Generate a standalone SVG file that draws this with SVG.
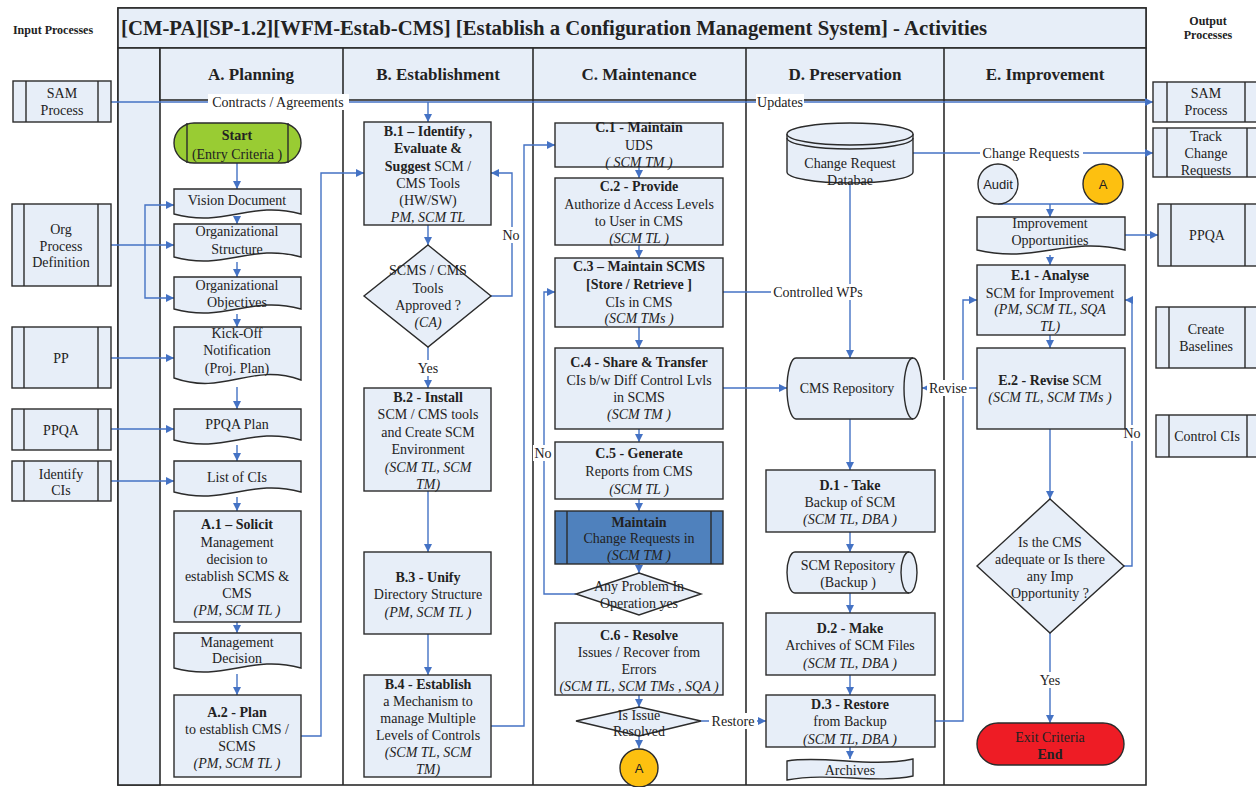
<svg xmlns="http://www.w3.org/2000/svg" width="1256" height="787" viewBox="0 0 1256 787" font-family="Liberation Serif, DejaVu Serif, serif">
<defs>
<marker id="ah" markerUnits="userSpaceOnUse" markerWidth="9" markerHeight="8" refX="8" refY="4" orient="auto"><path d="M0,0 L8,4 L0,8 Z" fill="#4472C4"/></marker>
<style>
.n{fill:#E7EEF8;stroke:#2b2b2b;stroke-width:1.4}
.lane{fill:#E7EEF8;stroke:#2b2b2b;stroke-width:1.6}
.div{stroke:#2b2b2b;stroke-width:1.6;fill:none}
.c{fill:none;stroke:#4472C4;stroke-width:1.4}
.a{marker-end:url(#ah)}
.bg{fill:#ffffff}
text{font-family:'Liberation Serif','DejaVu Serif',serif;font-size:14px;fill:#222;text-anchor:middle}
.b{font-weight:bold}
.i{font-style:italic}
.h{font-size:17px;font-weight:bold}
text.s{font-family:'Liberation Sans','DejaVu Sans',sans-serif;font-size:13px}
.sm{font-size:12px;font-weight:bold}
</style>
</defs>
<rect width="1256" height="787" fill="#ffffff"/>
<g id="frame">
<rect x="118" y="8" width="1028" height="777" fill="#ffffff" stroke="#2b2b2b" stroke-width="1.6"/>
<rect class="lane" x="118" y="8" width="1028" height="40"/>
<rect class="lane" x="118" y="48" width="42" height="737"/>
<rect class="lane" x="160" y="48" width="986" height="52"/>
<line class="div" x1="343" y1="48" x2="343" y2="785"/>
<line class="div" x1="533" y1="48" x2="533" y2="785"/>
<line class="div" x1="746" y1="48" x2="746" y2="785"/>
<line class="div" x1="944" y1="48" x2="944" y2="785"/>
<text x="121" y="35" style="font-size:20px;font-weight:bold;text-anchor:start" textLength="866" lengthAdjust="spacingAndGlyphs">[CM-PA][SP-1.2][WFM-Estab-CMS] [Establish a Configuration Management System] - Activities</text>
<text class="h" x="251" y="80">A. Planning</text>
<text class="h" x="438" y="80">B. Establishment</text>
<text class="h" x="639" y="80">C. Maintenance</text>
<text class="h" x="845" y="80">D. Preservation</text>
<text class="h" x="1045" y="80">E. Improvement</text>
<text class="sm" x="53" y="34">Input Processes</text>
<text class="sm" x="1208" y="25">Output</text>
<text class="sm" x="1208" y="39">Processes</text>
</g>
<g id="connectors">
<path class="c a" d="M111,102 H1153"/>
<path class="c a" d="M428,102 V122"/>
<path class="c a" d="M237,163 V189"/>
<path class="c a" d="M237,217 V224"/>
<path class="c a" d="M237,262 V277"/>
<path class="c a" d="M237,314 V327"/>
<path class="c a" d="M237,387 V409"/>
<path class="c a" d="M237,445 V461"/>
<path class="c a" d="M237,497 V511"/>
<path class="c a" d="M237,622 V633"/>
<path class="c a" d="M237,674 V695"/>
<path class="c a" d="M111,245 H174"/>
<path class="c a" d="M145,245 V205 H174"/>
<path class="c a" d="M145,245 V298 H174"/>
<path class="c a" d="M111,358 H174"/>
<path class="c a" d="M111,429 H174"/>
<path class="c a" d="M111,481 H174"/>
<path class="c a" d="M301,736 H321 V173 H364"/>
<path class="c a" d="M428,225 V245"/>
<path class="c a" d="M491,296 H512 V173 H491"/>
<path class="c a" d="M428,347 V388"/>
<path class="c a" d="M428,491 V552"/>
<path class="c a" d="M428,634 V675"/>
<path class="c a" d="M491,726 H524 V145 H555"/>
<path class="c a" d="M639,167 V178"/>
<path class="c a" d="M639,245 V258"/>
<path class="c a" d="M639,327 V348"/>
<path class="c a" d="M639,429 V442"/>
<path class="c a" d="M639,499 V511"/>
<path class="c a" d="M639,564 V573"/>
<path class="c a" d="M576,594 H544 V292 H555"/>
<path class="c a" d="M639,695 V707"/>
<path class="c a" d="M639,736 V748"/>
<path class="c a" d="M701,721 H766"/>
<path class="c" d="M723,292 H850"/>
<path class="c a" d="M723,388 H787"/>
<path class="c a" d="M850,184 V358"/>
<path class="c a" d="M913,153 H1153"/>
<path class="c a" d="M850,419 V470"/>
<path class="c a" d="M850,532 V552"/>
<path class="c a" d="M850,593 V613"/>
<path class="c a" d="M850,675 V695"/>
<path class="c a" d="M850,747 V759"/>
<path class="c a" d="M935,721 H963 V300 H977"/>
<path class="c a" d="M977,388 H922"/>
<path class="c" d="M998,204 H1103"/>
<path class="c a" d="M1050,204 V217"/>
<path class="c a" d="M1125,235 H1158"/>
<path class="c a" d="M1050,255 V265"/>
<path class="c a" d="M1050,335 V348"/>
<path class="c a" d="M1050,429 V499"/>
<path class="c a" d="M1124,566 H1132 V300 H1125"/>
<path class="c a" d="M1050,633 V723"/>
<rect class="bg" x="208" y="94" width="141" height="16"/>
<text x="278" y="107">Contracts  /  Agreements</text>
<rect class="bg" x="756" y="94" width="48" height="16"/>
<text x="780" y="107">Updates</text>
<rect class="bg" x="980" y="145" width="103" height="16"/>
<text x="1031" y="158">Change Requests</text>
<rect class="bg" x="771" y="284" width="94" height="16"/>
<text x="818" y="297">Controlled WPs</text>
<rect class="bg" x="501" y="227" width="21" height="16"/>
<text x="511" y="240">No</text>
<rect class="bg" x="415" y="360" width="26" height="16"/>
<text x="428" y="373">Yes</text>
<rect class="bg" x="533" y="445" width="21" height="16"/>
<text x="543" y="458">No</text>
<rect class="bg" x="709" y="713" width="48" height="16"/>
<text x="733" y="726">Restore</text>
<rect class="bg" x="927" y="380" width="42" height="16"/>
<text x="948" y="393">Revise</text>
<rect class="bg" x="1122" y="425" width="21" height="16"/>
<text x="1132" y="438">No</text>
<rect class="bg" x="1037" y="672" width="26" height="16"/>
<text x="1050" y="685">Yes</text>
</g>
<g id="in-sam">
<rect class="n" x="13" y="81" width="98" height="41"/>
<path class="n" d="M26,81 V122 M98,81 V122"/>
<text x="62" y="98">SAM</text><text x="62" y="115">Process</text>
</g>
<g id="in-org">
<rect class="n" x="12" y="204" width="99" height="82"/>
<path class="n" d="M24,204 V286 M98,204 V286"/>
<text x="61" y="234">Org</text><text x="61" y="250.5">Process</text><text x="61" y="267">Definition</text>
</g>
<g id="in-pp">
<rect class="n" x="12" y="327" width="99" height="61"/>
<path class="n" d="M24,327 V388 M98,327 V388"/>
<text x="61" y="363">PP</text>
</g>
<g id="in-ppqa">
<rect class="n" x="12" y="409" width="99" height="41"/>
<path class="n" d="M24,409 V450 M98,409 V450"/>
<text x="61" y="434.5">PPQA</text>
</g>
<g id="in-ci">
<rect class="n" x="12" y="461" width="99" height="40"/>
<path class="n" d="M24,461 V501 M98,461 V501"/>
<text x="61" y="478.5">Identify</text><text x="61" y="495">CIs</text>
</g>
<g id="out-sam">
<rect class="n" x="1153" y="82" width="115" height="40"/>
<path class="n" d="M1167,82 V122 M1245,82 V122"/>
<text x="1206" y="98">SAM</text><text x="1206" y="115">Process</text>
</g>
<g id="out-tcr">
<rect class="n" x="1153" y="128" width="115" height="49"/>
<path class="n" d="M1167,128 V177 M1247,128 V177"/>
<text x="1206" y="140.5">Track</text><text x="1206" y="158">Change</text><text x="1206" y="175">Requests</text>
</g>
<g id="out-ppqa">
<rect class="n" x="1158" y="204" width="110" height="62"/>
<path class="n" d="M1171,204 V266 M1245,204 V266"/>
<text x="1207" y="240">PPQA</text>
</g>
<g id="out-base">
<rect class="n" x="1156" y="307" width="112" height="61"/>
<path class="n" d="M1169,307 V368 M1245,307 V368"/>
<text x="1206" y="334">Create</text><text x="1206" y="351">Baselines</text>
</g>
<g id="out-ctrl">
<rect class="n" x="1156" y="415" width="112" height="42"/>
<path class="n" d="M1169,415 V457 M1247,415 V457"/>
<text x="1207" y="441">Control CIs</text>
</g>
<g id="start">
<rect x="174" y="123" width="127" height="40" rx="20" fill="#99CC33" stroke="#2b2b2b" stroke-width="1.4"/>
<path d="M187,123 V163 M288,123 V163" stroke="#2b2b2b" stroke-width="1.4"/>
<text class="b" x="237" y="139.5">Start</text><text x="237" y="158.5">(Entry Criteria )</text>
</g>
<g id="vision">
<path class="n" d="M174,189 H301 V214 C250,200 225,228 174,214 Z"/>
<text x="237" y="205">Vision Document</text>
</g>
<g id="orgstruct">
<path class="n" d="M174,224 H301 V257 C250,243 225,271 174,257 Z"/>
<text x="237" y="236">Organizational</text><text x="237" y="254">Structure</text>
</g>
<g id="orgobj">
<path class="n" d="M174,277 H301 V309 C250,295 225,323 174,309 Z"/>
<text x="237" y="290">Organizational</text><text x="237" y="307">Objectives</text>
</g>
<g id="kickoff">
<path class="n" d="M174,327 H301 V380 C250,362 225,396 174,378 Z"/>
<text x="237" y="338">Kick-Off</text><text x="237" y="355">Notification</text><text x="237" y="372.5">(Proj. Plan)</text>
</g>
<g id="ppqaplan">
<path class="n" d="M174,409 H301 V440 C250,426 225,454 174,440 Z"/>
<text x="237" y="429">PPQA Plan</text>
</g>
<g id="listci">
<path class="n" d="M174,461 H301 V492 C250,478 225,506 174,492 Z"/>
<text x="237" y="482">List of CIs</text>
</g>
<g id="a1">
<rect class="n" x="174" y="511" width="127" height="111"/>
<text class="b" x="237" y="529">A.1 – Solicit</text><text x="237" y="546.5">Management</text><text x="237" y="563.5">decision  to</text><text x="237" y="580.5">establish  SCMS  &amp;</text><text x="237" y="597.5">CMS</text><text class="i" x="237" y="615">(PM, SCM TL )</text>
</g>
<g id="mgmtdec">
<path class="n" d="M174,633 H301 V668 C250,654 225,682 174,668 Z"/>
<text x="237" y="647">Management</text><text x="237" y="663">Decision</text>
</g>
<g id="a2">
<rect class="n" x="174" y="695" width="127" height="82"/>
<text class="b" x="237" y="717">A.2 - Plan</text><text x="237" y="734">to establish CMS /</text><text x="237" y="751">SCMS</text><text class="i" x="237" y="768">(PM, SCM TL )</text>
</g>
<g id="b1">
<rect class="n" x="364" y="122" width="127" height="103"/>
<text class="b" x="428" y="136">B.1 – Identify ,</text><text class="b" x="428" y="153">Evaluate  &amp;</text><text x="428" y="171"><tspan class="b">Suggest</tspan> SCM /</text><text x="428" y="188">CMS Tools</text><text x="428" y="205">(HW/SW)</text><text class="i" x="428" y="222">PM, SCM TL</text>
</g>
<g id="bdec">
<polygon class="n" points="428,245 491,296 428,347 364,296"/>
<text x="428" y="275">SCMS / CMS</text><text x="428" y="293">Tools</text><text x="428" y="310">Approved ?</text><text class="i" x="428" y="327">(CA)</text>
</g>
<g id="b2">
<rect class="n" x="364" y="388" width="127" height="103"/>
<text class="b" x="428" y="402">B.2 - Install</text><text x="428" y="419">SCM  / CMS tools</text><text x="428" y="437">and Create SCM</text><text x="428" y="454">Environment</text><text class="i" x="428" y="472">(SCM TL, SCM</text><text class="i" x="428" y="489">TM)</text>
</g>
<g id="b3">
<rect class="n" x="364" y="552" width="127" height="82"/>
<text class="b" x="428" y="582">B.3 - Unify</text><text x="428" y="599">Directory Structure</text><text class="i" x="428" y="617">(PM, SCM TL )</text>
</g>
<g id="b4">
<rect class="n" x="364" y="675" width="127" height="102"/>
<text class="b" x="428" y="689">B.4 - Establish</text><text x="428" y="706">a Mechanism to</text><text x="428" y="723">manage Multiple</text><text x="428" y="740">Levels of Controls</text><text class="i" x="428" y="757">(SCM TL, SCM</text><text class="i" x="428" y="774">TM)</text>
</g>
<g id="c1">
<rect class="n" x="555" y="123" width="168" height="44"/>
<text class="b" x="639" y="132">C.1 - Maintain</text><text x="639" y="150">UDS</text><text class="i" x="639" y="167">( SCM TM )</text>
</g>
<g id="c2">
<rect class="n" x="555" y="178" width="168" height="67"/>
<text class="b" x="639" y="191">C.2 - Provide</text><text x="639" y="209">Authorize d Access Levels</text><text x="639" y="226">to User in CMS</text><text class="i" x="639" y="243">(SCM TL )</text>
</g>
<g id="c3">
<rect class="n" x="555" y="258" width="168" height="69"/>
<text class="b" x="639" y="271">C.3 – Maintain SCMS</text><text class="b" x="639" y="289">[Store  / Retrieve ]</text><text x="639" y="307">CIs in CMS</text><text class="i" x="639" y="323">(SCM TMs )</text>
</g>
<g id="c4">
<rect class="n" x="555" y="348" width="168" height="81"/>
<text class="b" x="639" y="367">C.4 - Share  &amp;  Transfer</text><text x="639" y="385">CIs b/w Diff Control Lvls</text><text x="639" y="402">in SCMS</text><text class="i" x="639" y="419">(SCM TM )</text>
</g>
<g id="c5">
<rect class="n" x="555" y="442" width="168" height="57"/>
<text class="b" x="639" y="458">C.5 - Generate</text><text x="639" y="476">Reports from CMS</text><text class="i" x="639" y="494">(SCM TL )</text>
</g>
<g id="cmaint">
<rect x="555" y="511" width="168" height="53" fill="#4F81BD" stroke="#2b2b2b" stroke-width="1.4"/>
<path d="M567,511 V564 M711,511 V564" stroke="#2b2b2b" stroke-width="1.4"/>
<text class="b" x="639" y="527">Maintain</text><text x="639" y="543">Change Requests in</text><text class="i" x="639" y="560">(SCM TM )</text>
</g>
<g id="cdec1">
<polygon class="n" points="639,573 701,594 639,615 576,594"/>
<text x="639" y="591">Any Problem In</text><text x="639" y="608">Operation yes</text>
</g>
<g id="c6">
<rect class="n" x="555" y="623" width="168" height="72"/>
<text class="b" x="639" y="640">C.6 - Resolve</text><text x="639" y="657">Issues  / Recover from</text><text x="639" y="674">Errors</text><text class="i" x="639" y="691">(SCM TL, SCM TMs , SQA )</text>
</g>
<g id="cdec2">
<polygon class="n" points="639,707 701,721 639,736 576,721"/>
<text x="639" y="720">Is Issue</text><text x="639" y="736">Resolved</text>
</g>
<g id="ca">
<circle cx="639" cy="768" r="19" fill="#FDC010" stroke="#2b2b2b" stroke-width="1.4"/>
<text class="s" x="639" y="772.5">A</text>
</g>
<g id="crdb">
<path class="n" d="M787,134 V172 A63,11 0 0 0 913,172 V134"/>
<ellipse class="n" cx="850" cy="134" rx="63" ry="11"/>
<path d="M787,138 A63,11 0 0 0 913,138" fill="none" stroke="#2b2b2b" stroke-width="1.4"/>
<text x="850" y="168">Change Request</text><text x="850" y="185">Databae</text>
</g>
<g id="cmsrepo">
<path class="n" d="M796,358 H913 A9,30.5 0 0 1 913,419 H796 A9,30.5 0 0 1 796,358 Z"/>
<path d="M913,358 A9,30.5 0 0 0 913,419" fill="none" stroke="#2b2b2b" stroke-width="1.4"/>
<text x="847" y="393">CMS Repository</text>
</g>
<g id="d1">
<rect class="n" x="766" y="470" width="169" height="62"/>
<text class="b" x="850" y="490">D.1 - Take</text><text x="850" y="507">Backup of SCM</text><text class="i" x="850" y="524">(SCM TL, DBA )</text>
</g>
<g id="scmrepo">
<path class="n" d="M795,552 H909 A8,20.5 0 0 1 909,593 H795 A8,20.5 0 0 1 795,552 Z"/>
<path d="M909,552 A8,20.5 0 0 0 909,593" fill="none" stroke="#2b2b2b" stroke-width="1.4"/>
<text x="848" y="570">SCM Repository</text><text x="848" y="587">(Backup )</text>
</g>
<g id="d2">
<rect class="n" x="766" y="613" width="169" height="62"/>
<text class="b" x="850" y="633">D.2 - Make</text><text x="850" y="650">Archives of SCM Files</text><text class="i" x="850" y="668">(SCM TL, DBA )</text>
</g>
<g id="d3">
<rect class="n" x="766" y="695" width="169" height="52"/>
<text class="b" x="850" y="709">D.3 - Restore</text><text x="850" y="726">from Backup</text><text class="i" x="850" y="744">(SCM TL, DBA )</text>
</g>
<g id="archives">
<path class="n" d="M787,761 C825,755 870,768 913,759 V776 C875,784 830,772 787,780 Z"/>
<text x="850" y="774.5">Archives</text>
</g>
<g id="audit">
<circle class="n" cx="998" cy="184" r="20"/>
<text class="s" x="998" y="188.5">Audit</text>
</g>
<g id="ea">
<circle cx="1103" cy="184" r="20" fill="#FDC010" stroke="#2b2b2b" stroke-width="1.4"/>
<text class="s" x="1103" y="188.5">A</text>
</g>
<g id="impopp">
<path class="n" d="M977,217 H1125 V250 C1066,236 1036,264 977,250 Z"/>
<text x="1050" y="228">Improvement</text><text x="1050" y="245">Opportunities</text>
</g>
<g id="e1">
<rect class="n" x="977" y="265" width="148" height="70"/>
<text class="b" x="1050" y="280">E.1 - Analyse</text><text x="1050" y="298">SCM for Improvement</text><text class="i" x="1050" y="314">(PM, SCM TL, SQA</text><text class="i" x="1050" y="331">TL)</text>
</g>
<g id="e2">
<rect class="n" x="977" y="348" width="148" height="81"/>
<text x="1050" y="385"><tspan class="b">E.2 - Revise</tspan>  SCM</text><text class="i" x="1050" y="402">(SCM TL, SCM TMs )</text>
</g>
<g id="edec">
<polygon class="n" points="1050,499 1124,566 1050,633 977,566"/>
<text x="1050" y="547">Is the CMS</text><text x="1050" y="564">adequate or Is there</text><text x="1050" y="581">any Imp</text><text x="1050" y="598">Opportunity ?</text>
</g>
<g id="exit">
<rect x="977" y="723" width="147" height="42" rx="21" fill="#EE1C25" stroke="#2b2b2b" stroke-width="1.4"/>
<text x="1050" y="742">Exit Criteria</text><text class="b" x="1050" y="759">End</text>
</g>
</svg>
